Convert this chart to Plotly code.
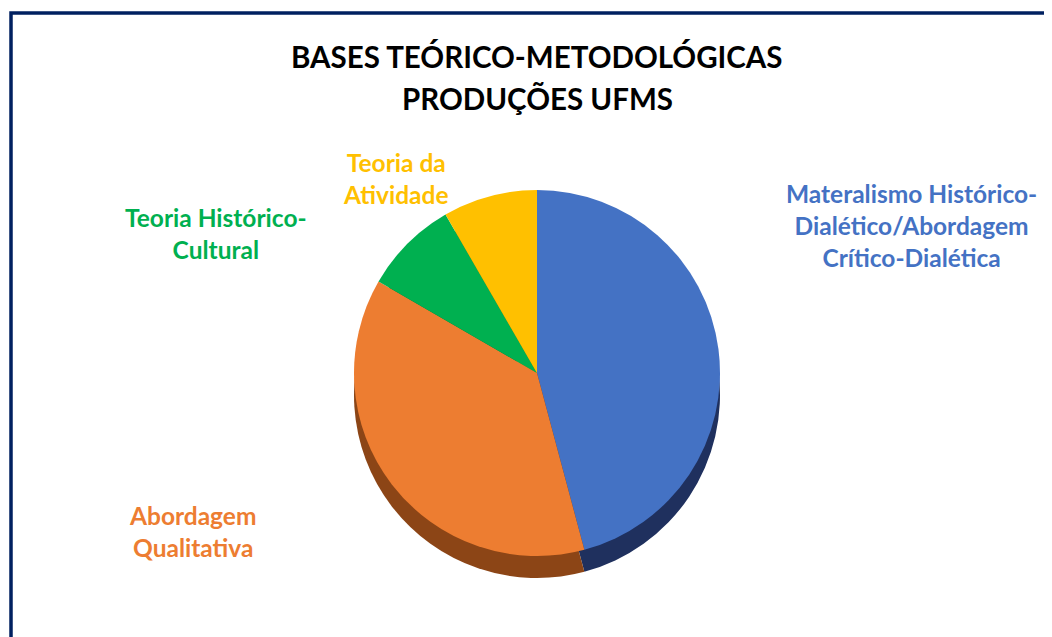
import plotly.graph_objects as go

# DATA
bases = [
    "Materalismo Histórico-Dialético/Abordagem Crítico-Dialética",
    "Abordagem Qualitativa",
    "Teoria Histórico-Cultural",
    "Teoria da Atividade",
]
producoes = [11, 9, 2, 2]
cores = ["#4472C4", "#ED7D31", "#00B050", "#FFC000"]
cores_lado = ["#1F305E", "#8C4516", "#006B30", "#A67C00"]

rotulos = [
    "Materalismo Histórico-<br>Dialético/Abordagem<br>Crítico-Dialética",
    "Abordagem<br>Qualitativa",
    "Teoria Histórico-<br>Cultural",
    "Teoria da<br>Atividade",
]
pos_rotulos = [(0.859, 0.658), (0.175, 0.178), (0.198, 0.646), (0.369, 0.733)]

W, H = 1052, 637
dx, dy = 8 / W, 8 / H  # page body offset

fig = go.Figure()

# "side" of the pie, drawn a little lower to fake the 3D depth
fig.add_trace(go.Pie(
    labels=bases, values=producoes, sort=False, direction="clockwise", rotation=0,
    marker=dict(colors=cores_lado, line=dict(width=0)),
    textinfo="none", hoverinfo="skip", showlegend=False,
    domain=dict(x=[292 / W, 766 / W], y=[1 - 570 / H, 1 - 204 / H]),
))

fig.add_trace(go.Pie(
    labels=bases, values=producoes, sort=False, direction="clockwise", rotation=0,
    marker=dict(colors=cores, line=dict(width=0)),
    textinfo="none", showlegend=False,
    hovertemplate="<b>%{label}</b><br>%{value} (%{percent})<extra></extra>",
    domain=dict(x=[292 / W, 766 / W], y=[1 - 548 / H, 1 - 182 / H]),
))

for txt, (x, y), c in zip(rotulos, pos_rotulos, cores):
    fig.add_annotation(
        text="<b>" + txt + "</b>", x=x, y=y, xref="paper", yref="paper",
        showarrow=False, align="center", xanchor="center", yanchor="middle",
        font=dict(family="Lato", size=24.5, color=c),
    )

for txt, y in [("BASES TEÓRICO-METODOLÓGICAS", 58), ("PRODUÇÕES UFMS", 100)]:
    fig.add_annotation(
        text="<b>" + txt + "</b>", x=529 / W, y=1 - (y - 9) / H, xref="paper", yref="paper",
        showarrow=False, xanchor="center", yanchor="middle",
        font=dict(family="Lato", size=29.5, color="black"),
    )

fig.update_layout(
    width=W, height=H,
    margin=dict(l=0, r=0, t=0, b=0),
    paper_bgcolor="white",
    font=dict(family="Lato"),
    shapes=[dict(
        type="rect", xref="paper", yref="paper",
        x0=3 / W, x1=1.05, y0=-0.05, y1=1 - 5 / H,
        line=dict(color="#002060", width=3.5),
    )],
)

fig.write_html("out.html")
